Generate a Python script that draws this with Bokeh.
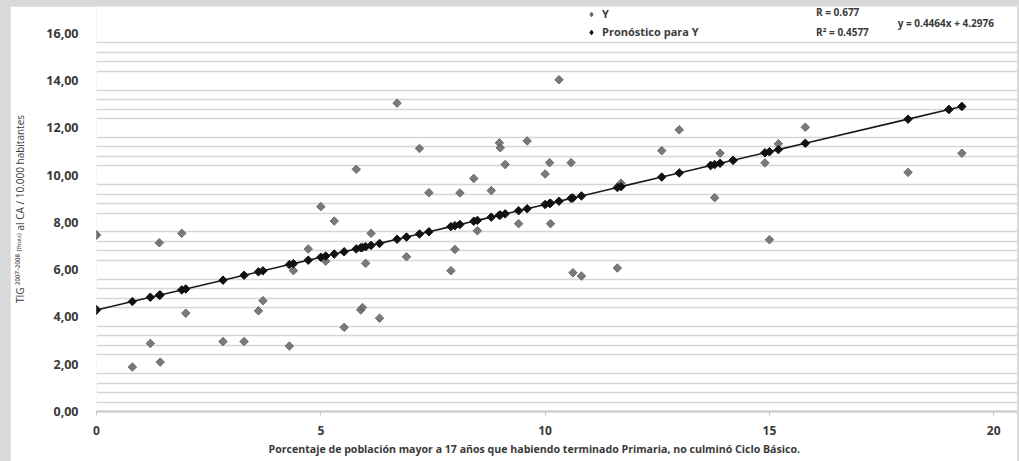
from bokeh.plotting import figure
from bokeh.models import (FixedTicker, Label, Legend, LegendItem, ColumnDataSource, Title,
                          CDSView, IndexFilter)
from bokeh.layouts import column
from bokeh.embed import file_html
from bokeh.resources import INLINE

# ---- data ----
x_vals = [0.00, 0.80, 1.20, 1.40, 1.42, 1.90, 1.99, 2.82, 3.29, 3.61, 3.71,
          4.30, 4.39, 4.72, 5.00, 5.11, 5.30, 5.52, 5.79, 5.89, 5.93, 6.00,
          6.12, 6.31, 6.70, 6.91, 7.20, 7.41, 7.90, 7.99, 8.10, 8.41, 8.49,
          8.80, 8.98, 9.00, 9.11, 9.41, 9.60, 10.00, 10.10, 10.12, 10.31,
          10.58, 10.62, 10.81, 11.61, 11.69, 12.60, 12.99, 13.69, 13.78,
          13.90, 14.19, 14.90, 15.00, 15.20, 15.80, 18.09, 19.00, 19.29]
y_vals = [7.47, 1.88, 2.88, 7.14, 2.09, 7.54, 4.16, 2.96, 2.96, 4.26, 4.69,
          2.77, 5.96, 6.88, 8.67, 6.36, 8.06, 3.56, 10.25, 4.30, 4.40, 6.27,
          7.54, 3.95, 13.05, 6.55, 11.13, 9.26, 5.96, 6.86, 9.25, 9.86, 7.65,
          9.35, 11.37, 11.16, 10.45, 7.95, 11.45, 10.05, 10.53, 7.95, 14.04,
          10.53, 5.87, 5.73, 6.07, 9.66, 11.04, 11.92, 10.42, 9.05,
          10.93, 10.63, 10.52, 7.27, 11.33, 12.03, 10.12, 12.78, 10.93]
slope = 0.4464        # from the chart's equation label
intercept = 4.2976
x_ticks = [0, 5, 10, 15, 20]
y_ticks = [0, 2, 4, 6, 8, 10, 12, 14, 16]
y_tick_labels = ["0,00", "2,00", "4,00", "6,00", "8,00", "10,00", "12,00", "14,00", "16,00"]
series_names = ["Y", "Pronóstico para Y"]
r_text = "R = 0.677"
r2_text = "R² = 0.4577"
eq_text = "y =  0.4464x + 4.2976"
x_title = "Porcentaje de población mayor a 17 años que habiendo terminado Primaria, no culminó Ciclo Básico."
y_title = "TIG ²⁰⁰⁷⁻²⁰⁰⁸ ⁽ᴮʳᵘᵗᵃ⁾ al CA / 10.000 habitantes"

pred_vals = [slope * x + intercept for x in x_vals]

FONT = "Open Sans"
TXT = "#3a3a3a"
GRAY_PT = "#6b6b6b"
BLACK_PT = "#111111"

p = figure(width=1007, height=455, x_range=(0, 20.53), y_range=(0, 17.14),
           output_backend="svg", toolbar_location=None,
           min_border_left=82, min_border_right=0, min_border_top=0, min_border_bottom=50)
p.outline_line_color = None
p.background_fill_color = "white"
p.border_fill_color = "white"

# grid: only minor horizontal lines
minor = [t / 10 for t in range(4, 160, 4) if t % 20 != 0]
p.yaxis.ticker = FixedTicker(ticks=y_ticks, minor_ticks=minor)
p.xaxis.ticker = FixedTicker(ticks=x_ticks)
p.xgrid.grid_line_color = None
p.ygrid.grid_line_color = None
p.ygrid.minor_grid_line_color = "#d6d6d6"
p.ygrid.minor_grid_line_width = 1.6

# y axis
p.yaxis.major_label_overrides = {t: l for t, l in zip(y_ticks, y_tick_labels)}
p.yaxis.axis_line_color = None
p.yaxis.major_tick_line_color = None
p.yaxis.minor_tick_line_color = None
p.yaxis.major_label_standoff = 12
p.yaxis.major_label_text_font = FONT
p.yaxis.major_label_text_font_style = "bold"
p.yaxis.major_label_text_font_size = "12.5px"
p.yaxis.major_label_text_color = TXT
p.yaxis.axis_label = y_title
p.yaxis.axis_label_text_font = FONT
p.yaxis.axis_label_text_font_style = "normal"
p.yaxis.axis_label_text_font_size = "10px"
p.yaxis.axis_label_text_color = TXT
p.yaxis.axis_label_standoff = 16

# x axis
p.xaxis.axis_line_color = "#c8c8c8"
p.xaxis.axis_line_width = 2
p.xaxis.major_tick_line_color = "#c8c8c8"
p.xaxis.major_tick_out = 4
p.xaxis.major_tick_in = 0
p.xaxis.minor_tick_line_color = None
p.xaxis.major_label_standoff = 10
p.xaxis.major_label_text_font = FONT
p.xaxis.major_label_text_font_style = "bold"
p.xaxis.major_label_text_font_size = "12px"
p.xaxis.major_label_text_color = TXT

# x axis title, placed below
t = Title(text=x_title, align="left", offset=172, standoff=5,
          text_font=FONT, text_font_size="10.6px", text_font_style="bold",
          text_color=TXT)
p.add_layout(t, "below")

# trend line and series
order = sorted(range(len(x_vals)), key=lambda i: x_vals[i])
xs = [x_vals[i] for i in order]
ps = [pred_vals[i] for i in order]
p.line(xs, ps, line_color="#1a1a1a", line_width=1.6)

src = ColumnDataSource(dict(x=x_vals, y=y_vals, pred=pred_vals))
p.scatter("x", "y", source=src, marker="square", angle=0.7854, size=6,
          fill_color=GRAY_PT, line_color=GRAY_PT, fill_alpha=0.9)
p.scatter("x", "pred", source=src, marker="square", angle=0.7854, size=6,
          fill_color=BLACK_PT, line_color=BLACK_PT)

# legend icons (diamonds), drawn only for the first data row
view0 = CDSView(filter=IndexFilter([0]))
r_leg_a = p.scatter("x", "y", source=src, view=view0, marker="diamond", size=9,
                    fill_color=GRAY_PT, line_color=GRAY_PT)
r_leg_p = p.scatter("x", "pred", source=src, view=view0, marker="diamond", size=9,
                    fill_color=BLACK_PT, line_color=BLACK_PT)

legend = Legend(items=[LegendItem(label=series_names[0], renderers=[r_leg_a]),
                       LegendItem(label=series_names[1], renderers=[r_leg_p])],
                location=(489, 372))
legend.border_line_color = None
legend.background_fill_alpha = 0
legend.label_text_font = FONT
legend.label_text_font_size = "11px"
legend.label_text_font_style = "bold"
legend.label_text_color = TXT
legend.glyph_width = 12
legend.glyph_height = 14
legend.label_standoff = 5
legend.spacing = 3
legend.padding = 2
legend.margin = 0
p.add_layout(legend)

for txt, xx, yy in [(r_text, 16.04, 16.9), (r2_text, 16.04, 16.05), (eq_text, 17.86, 16.45)]:
    p.add_layout(Label(x=xx, y=yy, text=txt, text_font=FONT, text_font_size="10px",
                       text_font_style="bold", text_color=TXT, text_baseline="middle",
                       text_align="left"))

lay = column(p, styles={"background-color": "#d9d9d9", "padding": "6px 2px 0px 10px"})

open("out.html", "w").write(file_html(lay, INLINE))
